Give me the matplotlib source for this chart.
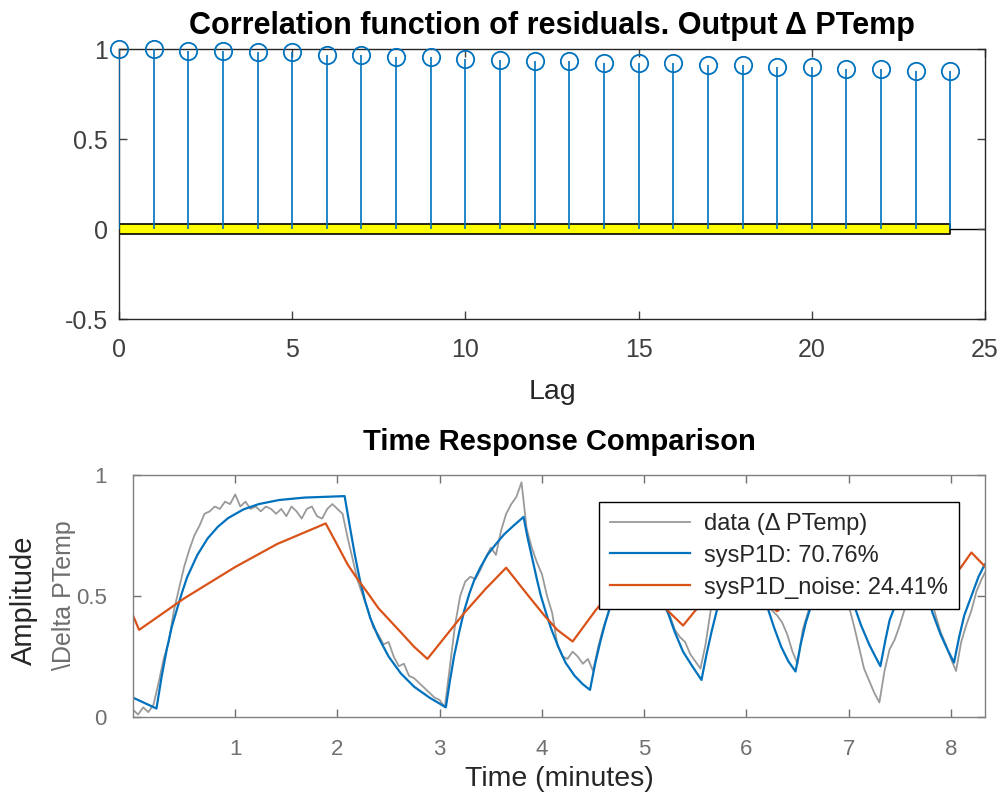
import numpy as np
import matplotlib.pyplot as plt

plt.rcParams['font.family'] = ['Liberation Sans', 'DejaVu Sans']

# --- residual correlation (top) ---
lags = list(range(25))
corr = [1.000, 0.998, 0.989, 0.990, 0.982, 0.982, 0.967, 0.967, 0.957, 0.957,
        0.944, 0.939, 0.933, 0.933, 0.924, 0.924, 0.924, 0.911, 0.911, 0.902,
        0.902, 0.889, 0.889, 0.880, 0.880]
conf_level = 0.03

# --- time response (bottom) ---
data_dt = 0.05  # minutes between samples
data_v = [0.03, 0.01, 0.04, 0.02, 0.05, 0.14, 0.24, 0.31, 0.44, 0.53,
          0.62, 0.69, 0.75, 0.79, 0.84, 0.85, 0.87, 0.86, 0.89, 0.88,
          0.92, 0.87, 0.89, 0.86, 0.87, 0.85, 0.87, 0.86, 0.84, 0.86,
          0.83, 0.87, 0.85, 0.82, 0.86, 0.87, 0.83, 0.82, 0.86, 0.88,
          0.86, 0.84, 0.74, 0.65, 0.56, 0.50, 0.44, 0.37, 0.34, 0.30,
          0.31, 0.25, 0.21, 0.22, 0.17, 0.16, 0.14, 0.12, 0.10, 0.08,
          0.07, 0.04, 0.21, 0.38, 0.50, 0.56, 0.58, 0.57, 0.61, 0.66,
          0.70, 0.67, 0.77, 0.84, 0.88, 0.91, 0.97, 0.78, 0.70, 0.64,
          0.59, 0.50, 0.43, 0.30, 0.25, 0.24, 0.27, 0.25, 0.22, 0.24,
          0.19, 0.29, 0.37, 0.43, 0.52, 0.58, 0.65, 0.70, 0.74, 0.72,
          0.70, 0.62, 0.55, 0.50, 0.45, 0.42, 0.36, 0.33, 0.31, 0.26,
          0.23, 0.20, 0.30, 0.44, 0.52, 0.58, 0.64, 0.68, 0.72, 0.70,
          0.66, 0.60, 0.54, 0.50, 0.47, 0.44, 0.42, 0.39, 0.34, 0.27,
          0.22, 0.36, 0.43, 0.50, 0.58, 0.65, 0.70, 0.72, 0.68, 0.58,
          0.46, 0.38, 0.29, 0.20, 0.15, 0.10, 0.06, 0.19, 0.28, 0.32,
          0.38, 0.45, 0.55, 0.63, 0.68, 0.62, 0.50, 0.42, 0.35, 0.30,
          0.24, 0.19, 0.31, 0.38, 0.44, 0.52, 0.57, 0.61]
data_t = np.arange(len(data_v)) * data_dt

p1d_t = [0.00, 0.23, 0.28, 0.33, 0.38, 0.43, 0.48, 0.53, 0.63, 0.73, 0.83, 0.93,
         1.08, 1.23, 1.43, 1.68, 2.07, 2.12, 2.17, 2.22, 2.27, 2.32, 2.40, 2.50,
         2.62, 2.75, 2.90, 3.06, 3.10, 3.14, 3.19, 3.24, 3.29, 3.34, 3.40, 3.47,
         3.55, 3.63, 3.72, 3.82, 3.86, 3.90, 3.95, 3.99, 4.04, 4.09, 4.16, 4.23,
         4.32, 4.40, 4.47, 4.52, 4.57, 4.62, 4.67, 4.75, 4.85, 4.95, 5.04, 5.10,
         5.16, 5.22, 5.30, 5.38, 5.47, 5.56, 5.61, 5.66, 5.71, 5.76, 5.86, 5.96,
         6.05, 6.10, 6.15, 6.20, 6.27, 6.34, 6.41, 6.48, 6.53, 6.58, 6.64, 6.70,
         6.80, 6.92, 6.97, 7.01, 7.05, 7.12, 7.20, 7.26, 7.31, 7.36, 7.40, 7.44,
         7.50, 7.58, 7.68, 7.75, 7.82, 7.90, 7.97, 8.03, 8.08, 8.13, 8.20, 8.27,
         8.33]
p1d_v = [0.080, 0.035, 0.166, 0.278, 0.373, 0.445, 0.515, 0.578, 0.670, 0.738,
         0.786, 0.822, 0.858, 0.880, 0.897, 0.907, 0.913, 0.790, 0.670, 0.565,
         0.480, 0.410, 0.330, 0.250, 0.180, 0.125, 0.080, 0.040, 0.150, 0.250,
         0.350, 0.440, 0.510, 0.568, 0.620, 0.672, 0.715, 0.755, 0.790, 0.827,
         0.740, 0.665, 0.570, 0.500, 0.430, 0.365, 0.290, 0.225, 0.170, 0.135,
         0.112, 0.220, 0.310, 0.390, 0.460, 0.540, 0.620, 0.690, 0.780, 0.650,
         0.540, 0.445, 0.350, 0.270, 0.210, 0.153, 0.260, 0.355, 0.440, 0.510,
         0.620, 0.700, 0.750, 0.640, 0.540, 0.460, 0.370, 0.290, 0.230, 0.188,
         0.300, 0.390, 0.470, 0.540, 0.630, 0.700, 0.600, 0.530, 0.465, 0.380,
         0.300, 0.250, 0.210, 0.320, 0.400, 0.445, 0.520, 0.600, 0.665, 0.540,
         0.430, 0.340, 0.275, 0.225, 0.330, 0.420, 0.500, 0.580, 0.630]

noise_t = [0.00, 0.06, 0.50, 1.00, 1.41, 1.885, 2.00, 2.10, 2.18, 2.30, 2.40,
           2.51, 2.62, 2.75, 2.88, 3.05, 3.24, 3.45, 3.65, 3.85, 4.03, 4.15,
           4.30, 4.53, 4.90, 5.22, 5.38, 5.50, 5.85, 6.30, 6.75, 7.20, 7.60,
           7.95, 8.10, 8.20, 8.36]
noise_v = [0.42, 0.36, 0.49, 0.62, 0.715, 0.80, 0.71, 0.63, 0.58, 0.51, 0.45,
           0.40, 0.35, 0.29, 0.24, 0.33, 0.43, 0.53, 0.617, 0.51, 0.416, 0.36,
           0.312, 0.444, 0.62, 0.444, 0.378, 0.44, 0.58, 0.437, 0.60, 0.47, 0.60,
           0.55, 0.62, 0.68, 0.61]

blue = '#0072BD'
orange = '#D95319'
tick_col = '#404040'

fig = plt.figure(figsize=(10.05, 8.01), dpi=100)

# top: correlation
ax1 = fig.add_axes([0.1184, 0.6017, 0.8617, 0.337])
ax1.axhline(0, color='black', lw=1.0, zorder=1)
ax1.fill_between([lags[0], lags[-1]], -conf_level, conf_level,
                 facecolor='yellow', edgecolor='black', lw=1.2, zorder=2)
ax1.vlines(lags, 0, corr, color=blue, lw=1.2, zorder=3)
ax1.plot(lags, corr, 'o', mfc='none', mec=blue, ms=12.5, mew=1.3, zorder=4,
         clip_on=False)
ax1.set_xlim(0, 25)
ax1.set_ylim(-0.5, 1)
ax1.set_xticks([0, 5, 10, 15, 20, 25])
ax1.set_yticks([-0.5, 0, 0.5, 1])
ax1.set_yticklabels(['-0.5', '0', '0.5', '1'])
ax1.tick_params(direction='in', top=True, right=True, labelsize=18,
                colors=tick_col, length=6, width=1)
ax1.tick_params(axis='x', pad=14)
ax1.tick_params(axis='y', pad=8)
for s in ax1.spines.values():
    s.set_color('#262626')
    s.set_linewidth(1.0)
ax1.set_xlabel('Lag', fontsize=20.5, color='#262626', labelpad=12)
ax1.set_title('Correlation function of residuals. Output \u0394 PTemp',
              fontsize=22, fontweight='bold', pad=11)

# bottom: time response
ax2 = fig.add_axes([0.1323, 0.1049, 0.8478, 0.302])
ax2.plot(data_t, data_v, color='#9a9a9a', lw=1.3, label='data (\u0394 PTemp)')
ax2.plot(p1d_t, p1d_v, color=blue, lw=1.6, label='sysP1D: 70.76%')
ax2.plot(noise_t, noise_v, color=orange, lw=1.6, label='sysP1D_noise: 24.41%')
ax2.set_xlim(0, 8.333)
ax2.set_ylim(0, 1)
ax2.set_xticks([1, 2, 3, 4, 5, 6, 7, 8])
ax2.set_yticks([0, 0.5, 1])
ax2.set_yticklabels(['0', '0.5', '1'])
ax2.tick_params(direction='in', top=True, right=True, labelsize=16,
                colors='#707070', length=6, width=1)
ax2.tick_params(axis='x', pad=16)
ax2.tick_params(axis='y', pad=19)
for s in ax2.spines.values():
    s.set_color('#808080')
    s.set_linewidth(1.0)
ax2.set_xlabel('Time (minutes)', fontsize=20.5, color='#262626', labelpad=4)
ax2.set_title('Time Response Comparison', fontsize=21, fontweight='bold', pad=18)
fig.text(24 / 1005, 1 - 600 / 801, 'Amplitude', rotation=90, fontsize=21,
         color='#262626', ha='center', va='center')
fig.text(64 / 1005, 1 - 595 / 801, '\\Delta PTemp', rotation=90, fontsize=18,
         color='#6e6e6e', ha='center', va='center')

leg = ax2.legend(loc='upper right', bbox_to_anchor=(0.9695, 0.888),
                 borderaxespad=0, fontsize=17, fancybox=False, framealpha=1,
                 edgecolor='black', handlelength=3.4, labelspacing=0.42,
                 borderpad=0.45, handletextpad=0.6)
leg.get_frame().set_linewidth(1.0)
for t in leg.get_texts():
    t.set_color('#262626')

fig.savefig('out.png', dpi=100, facecolor='white')
